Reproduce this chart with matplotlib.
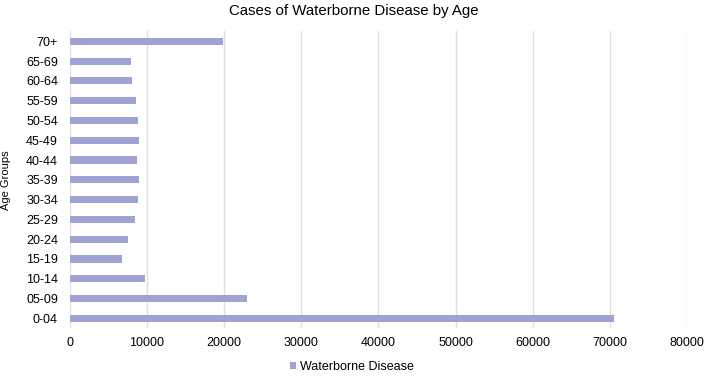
import numpy as np
import matplotlib.pyplot as plt

plt.rcParams['font.family'] = ['Liberation Sans', 'DejaVu Sans']

age_groups = ['0-04', '05-09', '10-14', '15-19', '20-24', '25-29', '30-34', '35-39',
              '40-44', '45-49', '50-54', '55-59', '60-64', '65-69', '70+']
cases = [70500, 22950, 9820, 6840, 7540, 8480, 8870, 9040,
         8780, 8960, 8870, 8650, 8070, 8000, 19900]
xticks = [0, 10000, 20000, 30000, 40000, 50000, 60000, 70000, 80000]

fig = plt.figure(figsize=(7.08, 3.76), dpi=100)
ax = fig.add_axes([69.7 / 708, 1 - 328.2 / 376, (687 - 69.7) / 708, (328.2 - 31.4) / 376])

y = np.arange(len(age_groups))
ax.barh(y, cases, height=0.36, color='#9ea3d3', label='Waterborne Disease', zorder=3)

ax.set_xlim(0, 80000)
ax.set_ylim(-0.5, len(age_groups) - 0.5)
ax.set_xticks(xticks)
ax.set_xticklabels([str(t) for t in xticks], fontsize=9)
ax.set_yticks(y)
ax.set_yticklabels(age_groups, fontsize=9)
ax.tick_params(axis='x', length=0, pad=6.5)
ax.tick_params(axis='y', length=0, pad=8.5)
ax.grid(axis='x', color='#dedede', linewidth=1, zorder=0)
for s in ax.spines.values():
    s.set_visible(False)

ax.set_ylabel('Age Groups', fontsize=8)
ax.yaxis.set_label_coords(-59 / (687 - 69.7), 0.5)
fig.text(0.5, 1 - 11 / 376, 'Cases of Waterborne Disease by Age', ha='center', va='center', fontsize=10.8)

fig.legend(loc='center', bbox_to_anchor=(352 / 708, 1 - 367 / 376), frameon=False,
           fontsize=9, handlelength=0.5, handleheight=0.5, handletextpad=0.3)

plt.savefig('out.png')
